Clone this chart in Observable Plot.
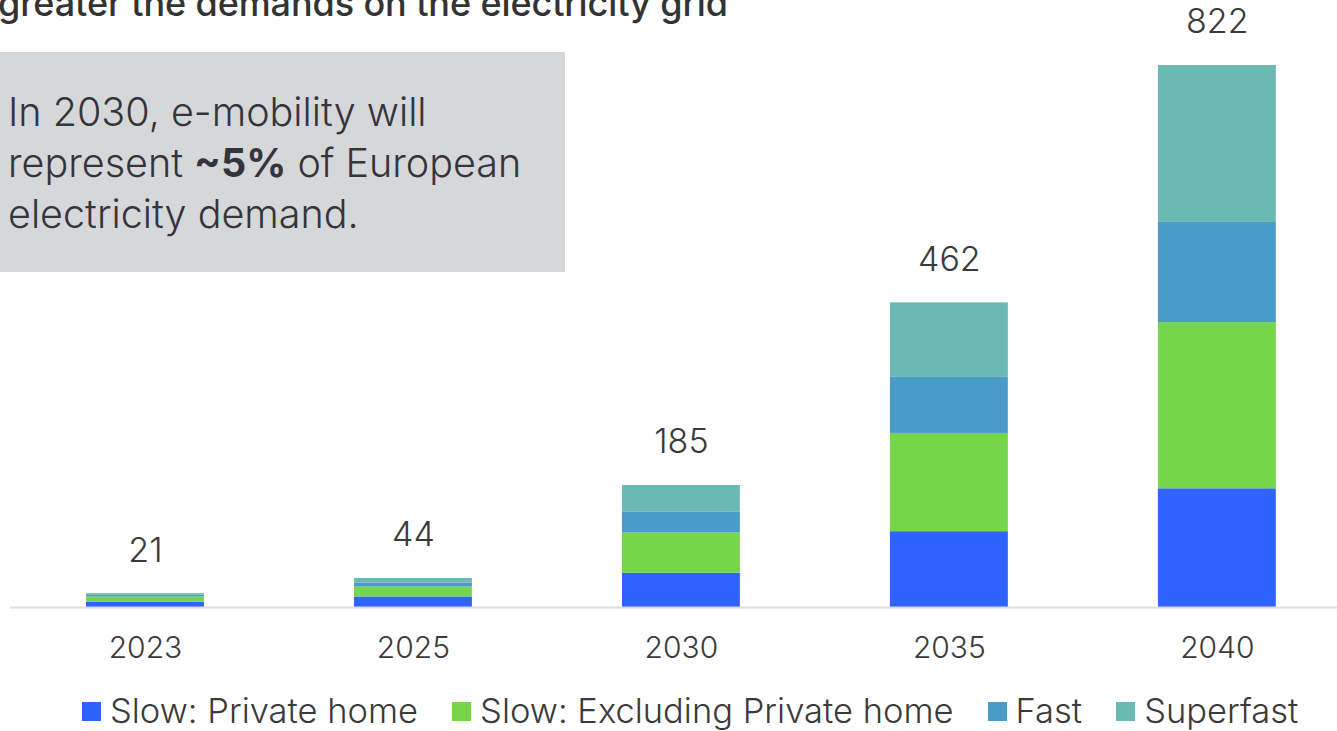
<!DOCTYPE html>
<html>
<head>
<meta charset="utf-8">
<script src="https://cdn.jsdelivr.net/npm/d3@7"></script>
<script src="https://cdn.jsdelivr.net/npm/@observablehq/plot@0.6"></script>
<style>
  html, body { margin: 0; padding: 0; background: #fff; overflow: hidden; }
  body { width: 1337px; height: 731px; position: relative; font-family: Inter, "Open Sans", sans-serif; color: #34343c; }
  #title { position: absolute; left: -2px; top: -15px; font-size: 36px; line-height: 36px; font-weight: 500; letter-spacing: -0.1px; white-space: nowrap; color: #333; }
  #chart { position: absolute; left: 0; top: 0; }
  #note { position: absolute; left: 0; top: 52px; width: 557px; height: 185px; background: #d6d7d9; padding: 35px 0 0 8px; font-size: 39.5px; line-height: 51px; font-weight: 300; color: #34343c; }
  #note b { font-weight: 700; }
  #legend { position: absolute; left: 82px; top: 691px; display: flex; align-items: center; font-size: 34.5px; line-height: 40px; font-weight: 300; color: #3a3a3a; white-space: nowrap; }
  #legend .item { display: flex; align-items: center; margin-right: 34px; }
  #legend .sw { width: 19px; height: 19px; margin-right: 9px; }
</style>
</head>
<body>
<div id="chart"></div>
<div id="title">greater the demands on the electricity grid</div>
<div id="note">In 2030, e-mobility will<br>represent <b>~5%</b> of European<br>electricity demand.</div>
<div id="legend"></div>
<script>
// Data (electricity demand from e-mobility)
const years = ["2023", "2025", "2030", "2035", "2040"];
const seriesNames = ["Slow: Private home", "Slow: Excluding Private home", "Fast", "Superfast"];
const slowPrivateHome = [8, 16, 52, 115, 180];
const slowExcludingPrivateHome = [8, 15, 61, 149, 252];
const fastValues = [3, 6, 32, 85, 152];
const superfastValues = [2, 7, 40, 113, 238];
const totals = [21, 44, 185, 462, 822];
const colors = ["#2e63ff", "#75d64b", "#489cc7", "#6ab9b3"];

const seriesValues = [slowPrivateHome, slowExcludingPrivateHome, fastValues, superfastValues];
const rows = [];
seriesNames.forEach((s, i) => years.forEach((y, j) => rows.push({year: y, series: s, value: seriesValues[i][j]})));
const totalRows = years.map((y, j) => ({year: y, total: totals[j]}));

const chart = Plot.plot({
  width: 1337,
  height: 680,
  marginTop: 65,
  marginBottom: 73,
  marginLeft: 10,
  marginRight: 0,
  style: {fontFamily: "Inter, 'Open Sans', sans-serif", color: "#3a3a3a", background: "transparent", fontWeight: 300},
  x: {domain: years, paddingInner: 0.56, paddingOuter: 0.256, align: 0.554, round: false, label: null},
  y: {domain: [0, 822], axis: null},
  color: {domain: seriesNames, range: colors},
  marks: [
    Plot.barY(rows, Plot.stackY({x: "year", y: "value", fill: "series", order: seriesNames})),
    Plot.ruleY([0], {stroke: "#dedede", strokeWidth: 2}),
    Plot.text(totalRows, {x: "year", y: "total", text: d => String(d.total), dy: -43, fontSize: 34, fill: "#3a3a3a"}),
    Plot.axisX({tickSize: 0, tickPadding: 29, fontSize: 30, label: null, fill: "#3a3a3a"})
  ]
});
document.getElementById("chart").appendChild(chart);

const legend = document.getElementById("legend");
seriesNames.forEach((s, i) => {
  const item = document.createElement("div");
  item.className = "item";
  const sw = document.createElement("div");
  sw.className = "sw";
  sw.style.background = colors[i];
  const label = document.createElement("span");
  label.textContent = s;
  item.appendChild(sw);
  item.appendChild(label);
  legend.appendChild(item);
});
</script>
</body>
</html>
